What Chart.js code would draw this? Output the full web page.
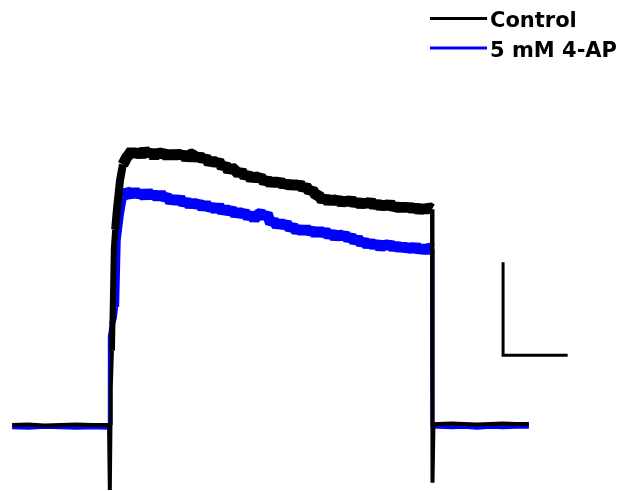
<!DOCTYPE html>
<html>
<head>
<meta charset="utf-8">
<script src="https://cdn.jsdelivr.net/npm/chart.js@4/dist/chart.umd.min.js"></script>
<style>
  html, body { margin: 0; padding: 0; background: #ffffff; }
  #wrap { width: 623px; height: 491px; }
</style>
</head>
<body>
<div id="wrap"><canvas id="trace" width="623" height="491"></canvas></div>
<script>
// Whole-cell current recorded during a 100 ms depolarising step (time in ms, current in nA)
const timeMs = [
  -30, -25, -20, -15, -10, -5, -0.4,
  -0.3, -0.2, 0.0, 0.2, 0.3, 0.45, 0.55, 0.9, 1.5, 1.9, 2.4, 3.4, 4.3, 5.5,
  6, 7, 8, 9, 10, 11, 12, 13, 14, 15, 16, 17, 18, 19, 20, 21, 22, 23, 24, 25,
  26, 27, 28, 29, 30, 31, 32, 33, 34, 35, 36, 37, 38, 39, 40, 41, 42, 43, 44, 45,
  46, 47, 48, 49, 50, 51, 52, 53, 54, 55, 56, 57, 58, 59, 60, 61, 62, 63, 64, 65,
  66, 67, 68, 69, 70, 71, 72, 73, 74, 75, 76, 77, 78, 79, 80, 81, 82, 83, 84, 85,
  86, 87, 88, 89, 90, 91, 92, 93, 94, 95, 96, 97, 98, 99,
  100.0, 100.15, 100.45,
  102, 106, 110, 114, 118, 122, 126, 130
];

const controlNa = [
  0, 0.005, -0.005, 0, 0.005, 0, 0,
  0, 0, 0, 0, -0.70, 0, 0.40, 0.80, 1.90, 2.10, 2.30, 2.63, 2.80, 2.88,
  2.90, 2.95, 2.90, 2.95, 2.89, 2.96, 2.91, 2.94, 2.88, 2.94, 2.91, 2.93, 2.88, 2.93, 2.88, 2.93, 2.89, 2.92, 2.86, 2.91,
  2.91, 2.86, 2.90, 2.85, 2.88, 2.81, 2.85, 2.81, 2.84, 2.77, 2.80, 2.73, 2.77, 2.74, 2.70, 2.73, 2.67, 2.70, 2.64, 2.68,
  2.65, 2.67, 2.61, 2.64, 2.59, 2.63, 2.59, 2.63, 2.57, 2.61, 2.56, 2.60, 2.56, 2.60, 2.54, 2.57, 2.51, 2.53, 2.47, 2.47,
  2.41, 2.45, 2.39, 2.44, 2.40, 2.43, 2.38, 2.42, 2.39, 2.43, 2.37, 2.41, 2.36, 2.40, 2.37, 2.41, 2.35, 2.39, 2.34, 2.38,
  2.34, 2.39, 2.33, 2.36, 2.32, 2.36, 2.32, 2.36, 2.31, 2.35, 2.30, 2.34, 2.31, 2.34,
  2.32, -0.62, 0.01,
  0.01, 0.015, 0.01, 0.005, 0.01, 0.015, 0.01, 0.01
];

const fourApNa = [
  -0.025, -0.03, -0.02, -0.025, -0.03, -0.025, -0.03,
  -0.03, -0.03, -0.03, 0.90, 0.95, 1.00, 1.03, 1.08, 1.15, 1.27, 1.99, 2.27, 2.45, 2.51,
  2.50, 2.47, 2.52, 2.47, 2.50, 2.45, 2.51, 2.46, 2.49, 2.44, 2.49, 2.44, 2.46, 2.40, 2.44, 2.40, 2.44, 2.38, 2.41, 2.36,
  2.40, 2.36, 2.39, 2.33, 2.38, 2.33, 2.35, 2.31, 2.36, 2.29, 2.33, 2.29, 2.32, 2.26, 2.30, 2.26, 2.29, 2.23, 2.27, 2.21,
  2.26, 2.28, 2.24, 2.27, 2.17, 2.20, 2.14, 2.18, 2.14, 2.17, 2.11, 2.14, 2.08, 2.12, 2.07, 2.12, 2.07, 2.10, 2.05, 2.10,
  2.05, 2.09, 2.03, 2.07, 2.01, 2.06, 2.02, 2.05, 2.00, 2.03, 1.97, 2.01, 1.95, 1.98, 1.93, 1.97, 1.92, 1.96, 1.90, 1.95,
  1.92, 1.95, 1.90, 1.94, 1.89, 1.93, 1.89, 1.92, 1.88, 1.93, 1.87, 1.91, 1.87, 1.91,
  1.89, -0.02, -0.02,
  -0.02, -0.025, -0.02, -0.03, -0.02, -0.025, -0.02, -0.02
];

// Calibration bar: 1 nA vertical, 20 ms horizontal
const scaleBarTime = [122, 122, 142];
const scaleBarNa = [1.75, 0.75, 0.75];

const seriesLabels = ['Control', '5 mM 4-AP'];
const seriesColors = ['#000000', '#0000ff'];

const toPoints = (xs, ys) => xs.map((x, i) => ({ x: x, y: ys[i] }));

// thicker stroke while the channel is open (noisy plateau), thinner on baselines and transients
const segmentWidth = (ctx) => {
  const a = ctx.p0.parsed.x, b = ctx.p1.parsed.x;
  if (a >= 4.3 && b <= 100.0) return 11;
  if (a >= 1.9 && b <= 100.0) return 8;
  if (a >= 0.9 && b <= 100.0) return 6;
  return 4;
};

const traceLegend = {
  id: 'traceLegend',
  afterDraw(chart) {
    const c = chart.ctx;
    const rows = [
      { lineY: 18.5, textY: 27 },
      { lineY: 48, textY: 57 }
    ];
    c.save();
    rows.forEach((r, i) => {
      c.strokeStyle = seriesColors[i];
      c.lineWidth = 3;
      c.lineCap = 'butt';
      c.beginPath();
      c.moveTo(430, r.lineY);
      c.lineTo(487, r.lineY);
      c.stroke();
      c.fillStyle = '#000000';
      c.font = 'bold 21px "DejaVu Sans", Verdana, sans-serif';
      c.textAlign = 'left';
      c.textBaseline = 'alphabetic';
      c.fillText(seriesLabels[i], 490, r.textY);
    });
    c.restore();
  }
};

const traceStyle = (i, values) => ({
  label: seriesLabels[i],
  data: toPoints(timeMs, values),
  borderColor: seriesColors[i],
  borderWidth: 4,
  segment: { borderWidth: segmentWidth },
  borderJoinStyle: 'bevel',
  borderCapStyle: 'butt',
  pointRadius: 0,
  tension: 0,
  fill: false
});

new Chart(document.getElementById('trace'), {
  type: 'line',
  data: {
    datasets: [
      traceStyle(0, controlNa),
      traceStyle(1, fourApNa),
      {
        label: 'scale',
        data: toPoints(scaleBarTime, scaleBarNa),
        borderColor: '#000000',
        borderWidth: 3,
        borderJoinStyle: 'miter',
        borderCapStyle: 'butt',
        pointRadius: 0,
        tension: 0,
        fill: false
      }
    ]
  },
  options: {
    responsive: false,
    animation: false,
    devicePixelRatio: 1,
    layout: { padding: 0 },
    plugins: {
      legend: { display: false },
      tooltip: { enabled: false }
    },
    scales: {
      x: { type: 'linear', min: -33.75, max: 159.13, display: false },
      y: { type: 'linear', min: -0.71, max: 4.57, display: false }
    }
  },
  plugins: [traceLegend]
});
</script>
</body>
</html>
